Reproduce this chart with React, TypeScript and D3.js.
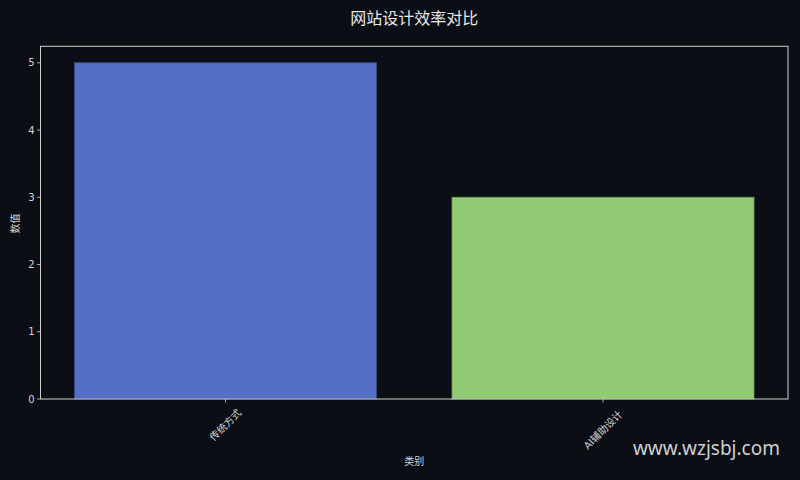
import React from "react";
import * as d3 from "d3";

const categories = ["传统方式", "AI辅助设计"];
const values = [5, 3];
const colors = ["#5470c6", "#91cc75"];
const edgeColors = ["#3c4f8c", "#6a9a58"];
const yTicks = [0, 1, 2, 3, 4, 5];

const W = 800;
const H = 480;
const M = { left: 40.5, right: 788, top: 46.3, bottom: 399 };
const BG = "#0b0e15";
const TXT = "#d4d4d4";
const FONT = "'DejaVu Sans', 'Noto Sans CJK SC', sans-serif";

export default function App() {
  const x = d3.scaleLinear().domain([-0.49, categories.length - 1 + 0.49]).range([M.left, M.right]);
  const y = d3.scaleLinear().domain([0, 5.245]).range([M.bottom, M.top]);
  const bw = x(0.8) - x(0);

  return (
    <svg width={W} height={H} style={{ position: "absolute", left: 0, top: 0, background: BG }}>
      <rect x={0} y={0} width={W} height={H} fill={BG} />
      <text x={(M.left + M.right) / 2} y={24} textAnchor="middle" fill="#e8e8e8" fontSize={16} fontFamily={FONT}>
        网站设计效率对比
      </text>
      {categories.map((c, i) => (
        <rect
          key={c}
          x={x(i) - bw / 2}
          y={y(values[i])}
          width={bw}
          height={y(0) - y(values[i])}
          fill={colors[i]}
          stroke={edgeColors[i]}
          strokeWidth={0.8}
        />
      ))}
      <rect x={M.left} y={M.top} width={M.right - M.left} height={M.bottom - M.top} fill="none" stroke="#cfcfcf" strokeWidth={1} />
      {yTicks.map((t) => (
        <g key={t}>
          <line x1={M.left - 3.5} x2={M.left} y1={y(t)} y2={y(t)} stroke="#cfcfcf" strokeWidth={0.8} />
          <text x={M.left - 6} y={y(t)} dy="0.35em" textAnchor="end" fill={TXT} fontSize={10} fontFamily={FONT}>
            {t}
          </text>
        </g>
      ))}
      {categories.map((c, i) => (
        <g key={c}>
          <line x1={x(i)} x2={x(i)} y1={M.bottom} y2={M.bottom + 3.5} stroke="#cfcfcf" strokeWidth={0.8} />
          <text
            transform={`translate(${x(i)},${M.bottom + 26 + (c.length - 4) * 2.5}) rotate(-45)`}
            textAnchor="middle"
            dy="0.35em"
            fill={TXT}
            fontSize={10}
            fontFamily={FONT}
          >
            {c}
          </text>
        </g>
      ))}
      <text transform={`translate(15.5,223.5) rotate(-90)`} textAnchor="middle" dy="0.35em" fill={TXT} fontSize={10} fontFamily={FONT}>
        数值
      </text>
      <text x={(M.left + M.right) / 2} y={461.5} textAnchor="middle" dy="0.35em" fill={TXT} fontSize={10} fontFamily={FONT}>
        类别
      </text>
      <text x={780} y={455} textAnchor="end" fill="#cfcfcf" fontSize={19} fontFamily="'Noto Sans', 'DejaVu Sans', sans-serif">
        www.wzjsbj.com
      </text>
    </svg>
  );
}
